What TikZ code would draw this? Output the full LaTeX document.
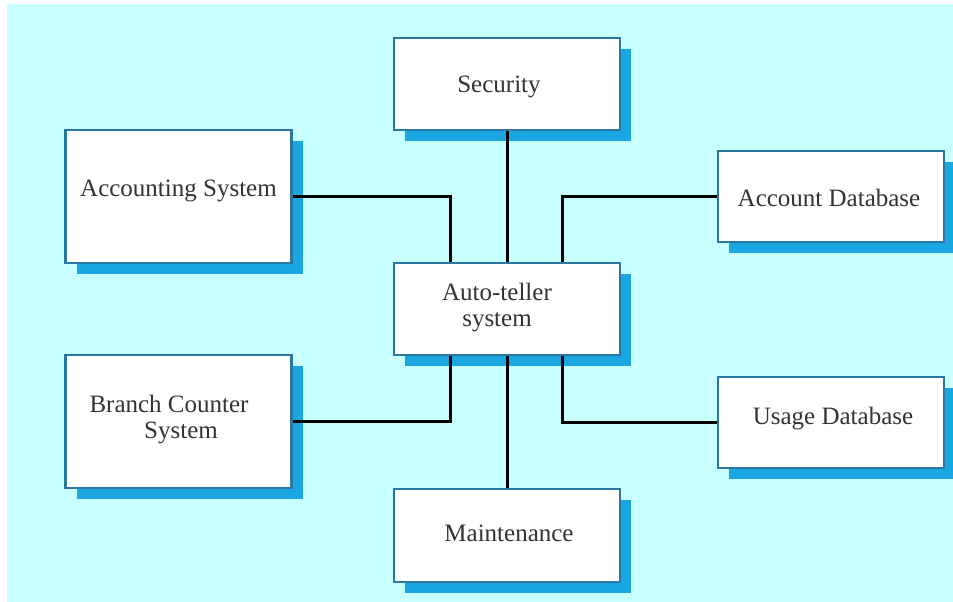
\documentclass[tikz,border=0pt]{standalone}
\usepackage{fontspec}
\newfontfamily\diagfont{Liberation Serif}
\usetikzlibrary{shadows}
\definecolor{bgc}{HTML}{C8FFFF}
\definecolor{shadowc}{HTML}{1AA6E0}
\definecolor{edgec}{HTML}{2C77A2}
\definecolor{txtc}{HTML}{333333}
\tikzset{
  box/.style={draw=edgec, line width=2.6pt, fill=white, minimum width=226pt, inner sep=0pt,
    drop shadow={shadow xshift=11pt, shadow yshift=-11pt, fill=shadowc, opacity=1}},
  lbl/.style={text=txtc, inner sep=0pt, font=\diagfont\fontsize{25}{30}\selectfont},
  conn/.style={line width=3pt, black}
}
\begin{document}
\begin{tikzpicture}[x=1pt,y=-1pt]
\useasboundingbox (0,0) rectangle (953,602);
\fill[white] (0,0) rectangle (953,602);
\fill[bgc] (7,4) rectangle (953,602);

\node[box, minimum height=92pt] (sec) at (507,84) {};
\node[box, minimum width=226pt, minimum height=133pt] (acc) at (178.5,196.5) {};
\node[box, minimum height=91pt] (adb) at (831,196.5) {};
\node[box, minimum height=92pt] (ats) at (507,309) {};
\node[box, minimum width=226pt, minimum height=133pt] (bcs) at (178.5,421.5) {};
\node[box, minimum height=91pt] (udb) at (831,422.5) {};
\node[box, minimum height=93pt] (mnt) at (507,535.5) {};

\node[lbl] (tsec) at (499,87) {Security};
\node[lbl] (tacc) at (178.5,191) {Accounting System};
\node[lbl] (tadb) at (829,198) {Account Database};
\node[lbl] (tats1) at (497,292) {Auto-teller};
\node[lbl] (tats2) at (497,322) {system};
\node[lbl] (tbcs1) at (169,404) {Branch Counter};
\node[lbl] (tbcs2) at (181,433) {System};
\node[lbl] (tudb) at (833,419) {Usage Database};
\node[lbl] (tmnt) at (509,533) {Maintenance};

\draw[conn] (sec.south) -- (ats.north);
\draw[conn] (acc.east) -| ([xshift=-57pt]ats.north);
\draw[conn] (adb.west) -| ([xshift=55pt]ats.north);
\draw[conn] (bcs.east) -| ([xshift=-57pt]ats.south);
\draw[conn] (udb.west) -| ([xshift=55pt]ats.south);
\draw[conn] (ats.south) -- (mnt.north);
\end{tikzpicture}
\end{document}
